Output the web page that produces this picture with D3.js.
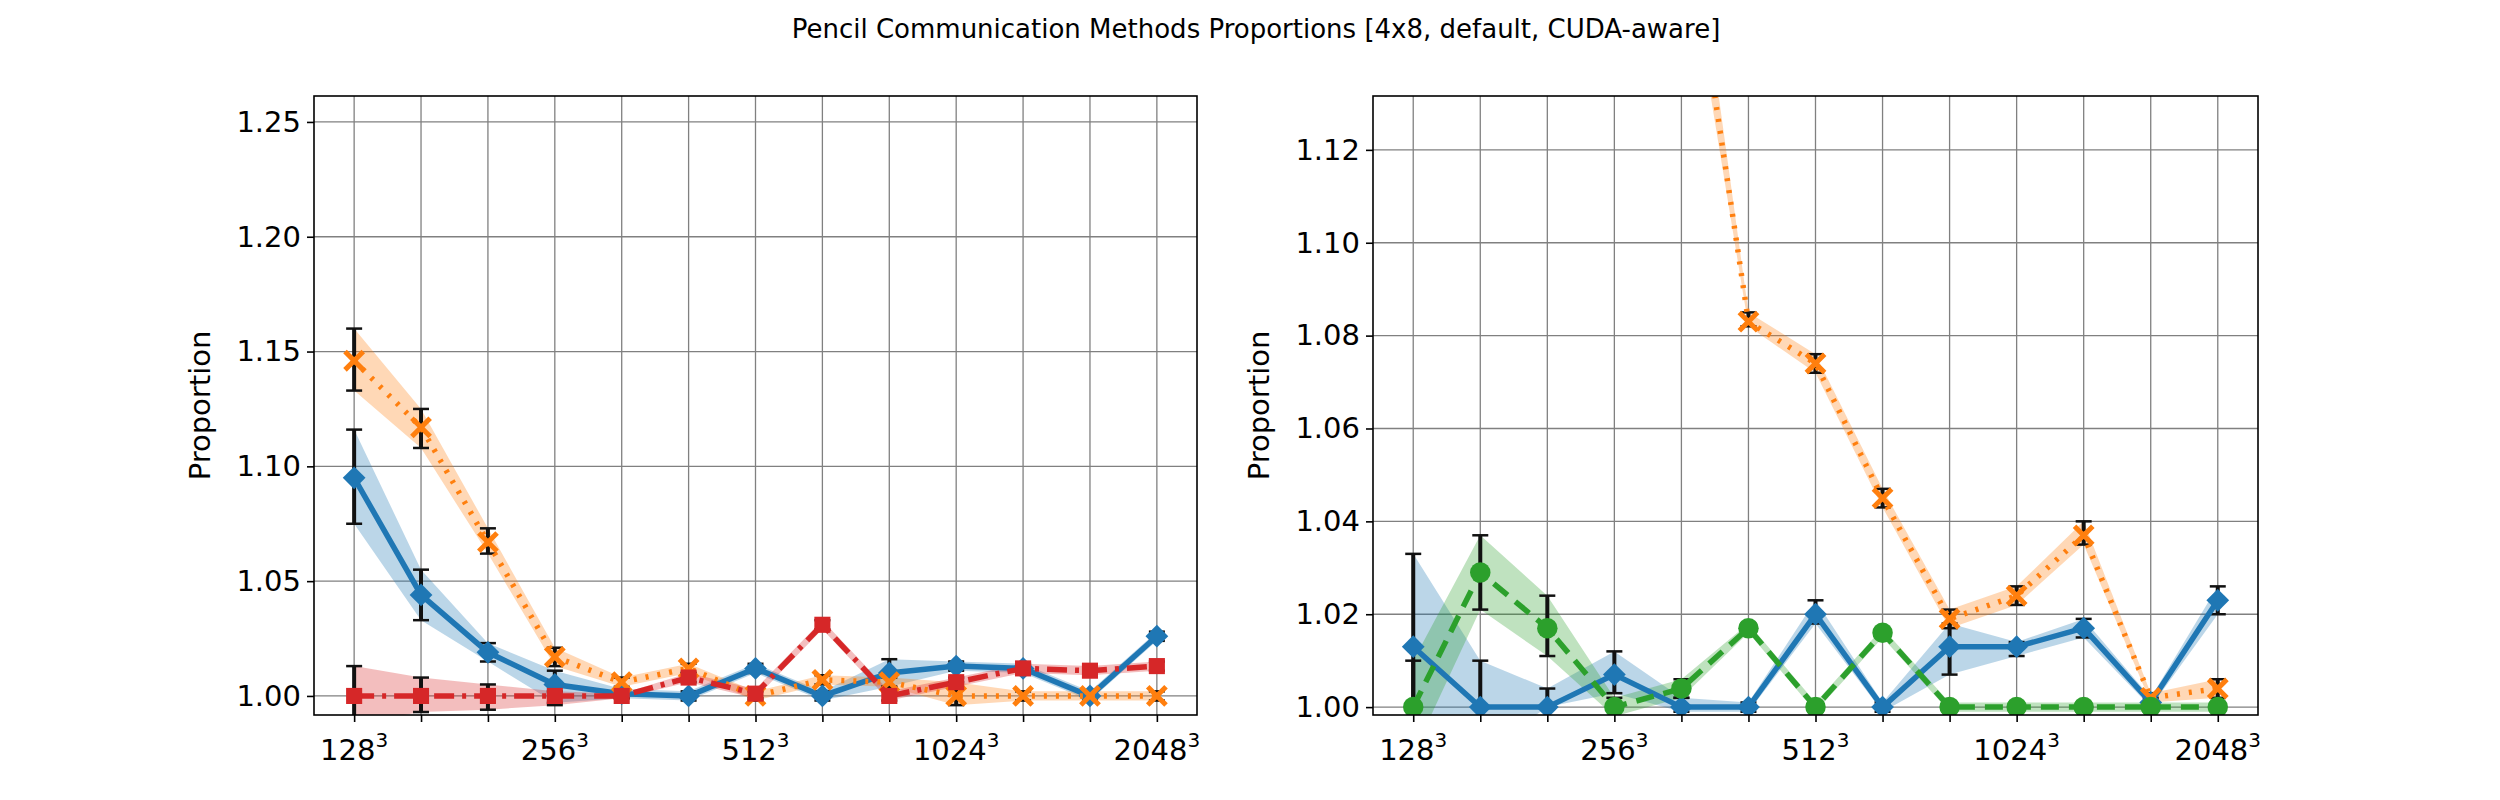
<!DOCTYPE html>
<html><head><meta charset="utf-8">
<script src="https://cdn.jsdelivr.net/npm/d3@7"></script>
<style>body{margin:0;background:#fff}</style></head>
<body><svg id="c" width="2500" height="800"></svg>
<script>
const categories = ["128","161","203","256","323","406","512","645","813","1024","1290","1625","2048"];
const tickLabels = ["128","256","512","1024","2048"];
const tickIdx = [0,3,6,9,12];
// Left panel
const L_blue = [1.095,1.044,1.019,1.005,1.001,1.000,1.012,1.000,1.010,1.013,1.012,1.000,1.026];
const L_blueLo = [1.075,1.033,1.015,0.997,0.999,0.998,1.010,0.998,1.004,1.011,1.010,0.998,1.024];
const L_blueHi = [1.116,1.055,1.023,1.011,1.003,1.002,1.014,1.002,1.016,1.015,1.014,1.002,1.028];
const L_orange = [1.146,1.117,1.067,1.017,1.006,1.012,1.000,1.007,1.006,1.000,1.000,1.000,1.000];
const L_orangeLo = [1.133,1.108,1.062,1.013,1.004,1.010,0.998,1.005,1.004,0.996,0.998,0.998,0.998];
const L_orangeHi = [1.160,1.125,1.073,1.021,1.008,1.014,1.002,1.009,1.008,1.006,1.002,1.002,1.002];
const L_red = [1.000,1.000,1.000,1.000,1.000,1.008,1.001,1.031,1.000,1.006,1.012,1.011,1.013];
const L_redLo = [0.988,0.993,0.994,0.996,0.999,1.006,0.999,1.029,0.998,1.004,1.010,1.009,1.011];
const L_redHi = [1.013,1.008,1.005,1.002,1.001,1.010,1.003,1.033,1.002,1.008,1.014,1.013,1.015];
// Right panel
const R_blue = [1.013,1.000,1.000,1.007,1.000,1.000,1.020,1.000,1.013,1.013,1.017,1.001,1.023];
const R_blueLo = [0.990,0.990,1.000,1.003,0.999,0.999,1.018,0.999,1.007,1.011,1.015,1.000,1.020];
const R_blueHi = [1.033,1.010,1.004,1.012,1.002,1.001,1.023,1.001,1.018,1.014,1.019,1.002,1.026];
const R_green = [1.000,1.029,1.017,1.000,1.004,1.017,1.000,1.016,1.000,1.000,1.000,1.000,1.000];
const R_greenLo = [0.990,1.021,1.011,0.998,1.002,1.016,0.999,1.015,0.999,0.999,0.999,0.999,0.999];
const R_greenHi = [1.010,1.037,1.024,1.002,1.006,1.018,1.001,1.017,1.001,1.001,1.001,1.001,1.001];
const R_orange = [1.40,1.33,1.27,1.22,1.18,1.083,1.074,1.045,1.019,1.024,1.037,1.002,1.004];
const R_orangeLo = [1.39,1.32,1.26,1.21,1.17,1.082,1.072,1.043,1.017,1.022,1.035,1.001,1.002];
const R_orangeHi = [1.41,1.34,1.28,1.23,1.19,1.085,1.076,1.047,1.021,1.026,1.040,1.003,1.006];

const svg = d3.select("#c");
const FONT = "DejaVu Sans";
svg.append("text").attr("x",1256).attr("y",38).attr("text-anchor","middle")
  .attr("font-family",FONT).attr("font-size",26).text("Pencil Communication Methods Proportions [4x8, default, CUDA-aware]");

const colors = {blue:"#1f77b4",orange:"#ff7f0e",red:"#d62728",green:"#2ca02c"};
const symbols = {blue:d3.symbolDiamond2,orange:d3.symbolX,red:d3.symbolSquare2,green:d3.symbolCircle};
const dashes = {blue:null,orange:"3,9",red:"20,8,4,8",green:"18,10"};

function panel(id,x0,x1,yDom,yTicks,fmt,series){
  const top=96,bot=715;
  const x=d3.scaleLinear().domain([-0.6,12.6]).range([x0,x1]);
  const y=d3.scaleLinear().domain(yDom).range([bot,top]);
  const g=svg.append("g");
  g.append("clipPath").attr("id",id).append("rect").attr("x",x0).attr("y",top).attr("width",x1-x0).attr("height",bot-top);
  // grid
  g.append("g").selectAll("line").data(d3.range(13)).join("line")
    .attr("x1",d=>x(d)).attr("x2",d=>x(d)).attr("y1",top).attr("y2",bot).attr("stroke","#808080").attr("stroke-width",1.3);
  g.append("g").selectAll("line").data(yTicks).join("line")
    .attr("x1",x0).attr("x2",x1).attr("y1",d=>y(d)).attr("y2",d=>y(d)).attr("stroke","#808080").attr("stroke-width",1.3);
  const cg=g.append("g").attr("clip-path",`url(#${id})`);
  series.forEach(s=>{
    const idx=d3.range(13);
    cg.append("path").datum(idx).attr("fill",colors[s.c]).attr("opacity",0.3)
      .attr("d",d3.area().x(i=>x(i)).y0(i=>y(s.lo[i])).y1(i=>y(s.hi[i])));
  });
  series.forEach(s=>{
    const idx=d3.range(13);
    cg.append("g").selectAll("line").data(idx).join("line")
      .attr("x1",i=>x(i)).attr("x2",i=>x(i)).attr("y1",i=>y(s.lo[i])).attr("y2",i=>y(s.hi[i]))
      .attr("stroke","#111").attr("stroke-width",4);
    ["lo","hi"].forEach(k=>cg.append("g").selectAll("line").data(idx).join("line")
      .attr("x1",i=>x(i)-8).attr("x2",i=>x(i)+8).attr("y1",i=>y(s[k][i])).attr("y2",i=>y(s[k][i]))
      .attr("stroke","#111").attr("stroke-width",2.5));
  });
  series.forEach(s=>{
    const idx=d3.range(13);
    cg.append("path").datum(idx).attr("fill","none").attr("stroke",colors[s.c]).attr("stroke-width",5.5)
      .attr("stroke-dasharray",dashes[s.c]).attr("d",d3.line().x(i=>x(i)).y(i=>y(s.v[i])));
    cg.append("g").selectAll("path").data(idx).join("path")
      .attr("transform",i=>`translate(${x(i)},${y(s.v[i])})`)
      .attr("d",d3.symbol().type(symbols[s.c]).size(s.c==="orange"?220:330))
      .attr("fill",colors[s.c]).attr("stroke",s.c==="orange"?colors[s.c]:"none").attr("stroke-width",s.c==="orange"?5:0);
  });
  g.append("rect").attr("x",x0).attr("y",top).attr("width",x1-x0).attr("height",bot-top).attr("fill","none").attr("stroke","#000").attr("stroke-width",1.6);
  // y axis
  const ya=g.append("g").attr("transform",`translate(${x0},0)`).call(d3.axisLeft(y).tickValues(yTicks).tickFormat(fmt).tickSize(7).tickPadding(6));
  ya.select(".domain").remove();
  ya.selectAll("text").attr("font-family",FONT).attr("font-size",29).attr("fill","#000");
  ya.selectAll("line").attr("stroke-width",1.6);
  // x axis
  const xa=g.append("g").attr("transform",`translate(0,${bot})`).call(d3.axisBottom(x).tickValues(d3.range(13)).tickFormat("").tickSize(7));
  xa.select(".domain").remove();
  xa.selectAll("line").attr("stroke-width",1.6);
  const lab=g.append("g").selectAll("text").data(tickIdx).join("text")
    .attr("x",i=>x(i)).attr("y",bot+45).attr("text-anchor","middle").attr("font-family",FONT).attr("font-size",29);
  lab.append("tspan").text((i,k)=>tickLabels[k]);
  lab.append("tspan").attr("dy",-13).attr("font-size",20).text("3");
  g.append("text").attr("transform",`translate(${x0-104},${(top+bot)/2}) rotate(-90)`).attr("text-anchor","middle")
    .attr("font-family",FONT).attr("font-size",29).text("Proportion");
}
panel("cl",314,1197,[0.9917,1.2613],[1.00,1.05,1.10,1.15,1.20,1.25],d3.format(".2f"),[
  {c:"blue",v:L_blue,lo:L_blueLo,hi:L_blueHi},
  {c:"orange",v:L_orange,lo:L_orangeLo,hi:L_orangeHi},
  {c:"red",v:L_red,lo:L_redLo,hi:L_redHi}]);
panel("cr",1373,2258,[0.9983,1.1316],[1.00,1.02,1.04,1.06,1.08,1.10,1.12],d3.format(".2f"),[
  {c:"blue",v:R_blue,lo:R_blueLo,hi:R_blueHi},
  {c:"orange",v:R_orange,lo:R_orangeLo,hi:R_orangeHi},
  {c:"green",v:R_green,lo:R_greenLo,hi:R_greenHi}]);
</script></body></html>
